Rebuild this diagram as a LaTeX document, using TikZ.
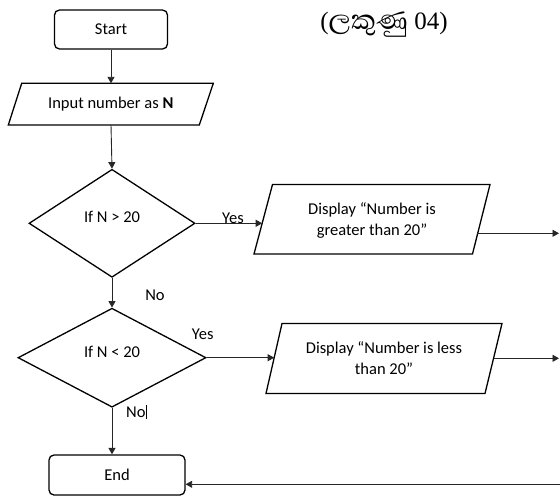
\documentclass[tikz,border=0pt]{standalone}
\usepackage{fontspec}
\setmainfont{Carlito}
\newfontfamily\titlefont{Liberation Serif}
\newfontfamily\sinhalafont[Script=Sinhala,Scale=1.4]{Abhaya Libre}
\usetikzlibrary{shapes.geometric,arrows.meta}
\begin{document}
\begin{tikzpicture}[x=1pt,y=-1pt,
  shapeline/.style={draw=black,line width=1.3pt},
  txt/.style={font=\fontsize{16.5}{21}\selectfont,inner sep=0pt,align=center},
  term/.style={shapeline,rectangle,rounded corners=5pt,inner sep=0pt,font=\fontsize{16.5}{21}\selectfont},
  decision/.style={shapeline,diamond,inner sep=0pt},
  conn/.style={line width=0.9pt,draw=black!85,-{Triangle[length=6.5pt,width=7pt]}},
]
\useasboundingbox (0,0) rectangle (560,496);

% title
\node[inner sep=0pt] (title) at (384,25) {\fontsize{25}{28}\selectfont\titlefont (\sinhalafont ලකුණු\titlefont{} 04)};

% start
\node[term,minimum width=113pt,minimum height=39pt] (start) at (111,29.5) {Start};

% input
\draw[shapeline] (21.7,83.3) -- (213.3,83.3) -- (199.3,125) -- (8.3,125) -- cycle;
\node[txt] (input) at (110.8,104.2) {Input number as \textbf{N}};
\coordinate (inTop) at (111,83.3);
\coordinate (inBot) at (111,125);
\draw[conn] (start.south) -- (inTop);

% decision 1
\node[decision,minimum width=166pt,minimum height=108pt] (d1) at (112,223.3) {};
\node[txt] (d1t) at (112,217) {If N > 20};
\draw[conn] (inBot) -- (d1.north);

% display 1
\draw[shapeline] (272.5,184.5) -- (490,184.5) -- (472.5,254) -- (254,254) -- cycle;
\node[txt] (disp1) at (372,220) {Display “Number is\\greater than 20”};
\coordinate (p1L) at (262.2,223.3);
\coordinate (p1R) at (477,233.3);
\coordinate (out1) at (559,233.3);
\draw[conn] (d1.east) -- (p1L);
\node[txt,anchor=base] (yes1) at (233,223.5) {Yes};
\draw[conn] (p1R) -- (out1);

% decision 2
\node[txt] (no1) at (155,295) {No};
\node[decision,minimum width=188pt,minimum height=99pt] (d2) at (112,357.7) {};
\node[txt] (d2t) at (112,351.7) {If N < 20};
\draw[conn] (d1.south) -- (d2.north);
\node[txt] (yes2) at (202.7,334.3) {Yes};

% display 2
\draw[shapeline] (282,323.5) -- (502,323.5) -- (485,393.5) -- (266,393.5) -- cycle;
\node[txt] (disp2) at (384,358) {Display “Number is less\\than 20”};
\coordinate (p2L) at (274.2,357.7);
\coordinate (p2R) at (493.5,358.3);
\coordinate (out2) at (559,358.3);
\draw[conn] (d2.east) -- (p2L);
\draw[conn] (p2R) -- (out2);

% end
\node[txt,anchor=base west] (no2) at (126,417.5) {No\rule[-1.5pt]{0.6pt}{14pt}};
\node[term,minimum width=136pt,minimum height=40pt] (end) at (117,475) {End};
\draw[conn] (d2.south) -- (d2.south |- end.north);
\coordinate (back) at (560,484.3);
\draw[conn] (back) -- (back -| end.east);
\end{tikzpicture}
\end{document}
